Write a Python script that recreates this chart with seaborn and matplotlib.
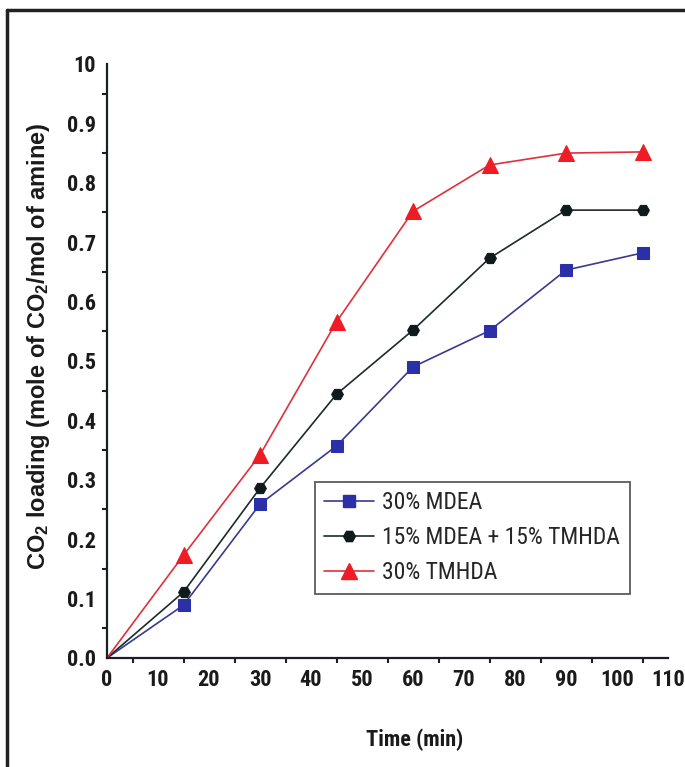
import matplotlib
matplotlib.use("Agg")
import matplotlib.pyplot as plt
import seaborn as sns
import pandas as pd
from matplotlib.lines import Line2D
from matplotlib.ticker import MultipleLocator, FixedLocator, FixedFormatter
from matplotlib import font_manager as fm

time_min = [0, 15, 30, 45, 60, 75, 90, 105]
mdea = [0.0, 0.089, 0.259, 0.357, 0.490, 0.551, 0.653, 0.682]
blend = [0.0, 0.111, 0.286, 0.444, 0.552, 0.673, 0.754, 0.754]
tmhda = [0.0, 0.173, 0.342, 0.566, 0.752, 0.830, 0.850, 0.852]
series_names = ["30% MDEA", "15% MDEA + 15% TMHDA", "30% TMHDA"]
y_ticks = [0.0, 0.1, 0.2, 0.3, 0.4, 0.5, 0.6, 0.7, 0.8, 0.9, 1.0]
y_tick_labels = ["0.0", "0.1", "0.2", "0.3", "0.4", "0.5", "0.6", "0.7", "0.8", "0.9", "10"]
x_ticks = [0, 10, 20, 30, 40, 50, 60, 70, 80, 90, 100, 110]

installed = {f.name for f in fm.fontManager.ttflist}
narrow = [f for f in ["Roboto Condensed", "Archivo Narrow", "Fira Sans Condensed"] if f in installed]
narrow_bold = [f for f in ["Roboto Condensed", "Fira Sans Condensed", "Archivo Narrow"] if f in installed]
narrow = narrow[:1] + ["Liberation Sans", "DejaVu Sans"]
narrow_bold = narrow_bold[:1] + ["Liberation Sans", "DejaVu Sans"]

sns.set_theme(style="white")
plt.rcParams['font.family'] = narrow_bold
plt.rcParams['mathtext.fontset'] = 'custom'
plt.rcParams['mathtext.bf'] = 'Liberation Sans:bold'
plt.rcParams['mathtext.rm'] = 'Liberation Sans:bold'
plt.rcParams['mathtext.default'] = 'bf'

df = pd.DataFrame({
    "time": time_min * 3,
    "load": mdea + blend + tmhda,
    "series": [series_names[0]] * 8 + [series_names[1]] * 8 + [series_names[2]] * 8,
})

fig = plt.figure(figsize=(6.85, 7.67), dpi=100)
ax = fig.add_axes([107/685, 1 - 658/767, (668-107)/685, (658-64)/767])

styles = {
    series_names[0]: dict(line="#3a3a8c", mk="s", mc="#2b2fa8", ms=8),
    series_names[1]: dict(line="#1e2a2a", mk="H", mc="#0f1a1a", ms=8.5),
    series_names[2]: dict(line="#e0303a", mk="^", mc="#ee1c25", ms=11),
}
handles = []
for name in series_names:
    st = styles[name]
    sub = df[df.series == name]
    sns.lineplot(data=sub, x="time", y="load", ax=ax, color=st["line"], lw=1.2,
                 marker=st["mk"], markersize=st["ms"], markerfacecolor=st["mc"],
                 markeredgecolor=st["mc"], markevery=list(range(1, 8)), legend=False)
    handles.append(Line2D([], [], color=st["line"], lw=1.2, marker=st["mk"],
                          markersize=st["ms"], markerfacecolor=st["mc"], markeredgecolor=st["mc"]))

ax.set_xlim(0, 110)
ax.set_ylim(0, 1.0)
ax.xaxis.set_major_locator(FixedLocator(x_ticks))
ax.xaxis.set_minor_locator(MultipleLocator(5))
ax.yaxis.set_major_locator(FixedLocator(y_ticks))
ax.yaxis.set_major_formatter(FixedFormatter(y_tick_labels))
ax.yaxis.set_minor_locator(MultipleLocator(0.05))
ax.set_xticklabels([str(t) for t in x_ticks])
for sp in ["top", "right"]:
    ax.spines[sp].set_visible(False)
for sp in ["left", "bottom"]:
    ax.spines[sp].set_color("#1a1f24")
    ax.spines[sp].set_linewidth(1.6)
ax.tick_params(axis="both", which="major", direction="out", length=6, width=1.5,
               color="#1a1f24", labelsize=16, pad=2)
ax.tick_params(axis="both", which="minor", direction="out", length=3.5, width=1.5,
               color="#1a1f24", left=True, bottom=True)
for lab in ax.get_xticklabels() + ax.get_yticklabels():
    lab.set_fontweight("bold")
    lab.set_color("#1a1a1a")
ax.patch.set_alpha(0)

ax.set_xlabel("Time (min)", fontsize=16, fontweight="bold", color="#1a1a1a")
ax.xaxis.set_label_coords((415-107)/561, (658-740)/594)
ax.xaxis.label.set_va("center")
ax.set_ylabel("CO$_2$ loading (mole of CO$_2$/mol of amine)", fontsize=17,
              fontweight="bold", color="#1a1a1a", family=["Liberation Sans", "DejaVu Sans"])
ax.yaxis.set_label_coords((39-107)/561, (658-346)/594)
ax.yaxis.label.set_va("center")

leg = ax.legend(handles, series_names, loc="upper left",
                bbox_to_anchor=((315-107)/561, (658-482)/594),
                frameon=True, fancybox=False, handlelength=2.1,
                handletextpad=0.35, borderpad=0.4, labelspacing=0.5, borderaxespad=0,
                prop={"family": narrow, "size": 17})
leg.get_frame().set_edgecolor("#333333")
leg.get_frame().set_linewidth(1.3)

# outer frame (left and top edges visible)
fig.add_artist(Line2D([7/685, 7/685], [0, 1 - 10/767], transform=fig.transFigure,
                      color="#222222", lw=2.5))
fig.add_artist(Line2D([7/685, 1], [1 - 10/767, 1 - 10/767], transform=fig.transFigure,
                      color="#222222", lw=2.5))

fig.savefig("out.png", dpi=100)
